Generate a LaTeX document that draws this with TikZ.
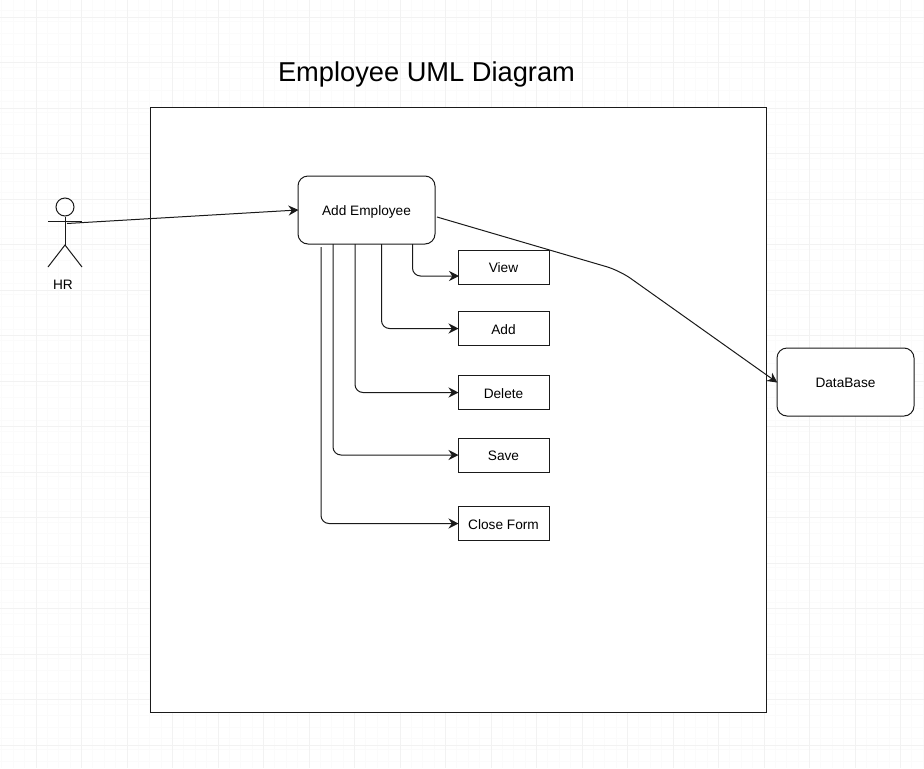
\documentclass[tikz,border=0pt]{standalone}
\usepackage{fontspec}
\setmainfont{Liberation Sans}
\usetikzlibrary{arrows.meta}
\definecolor{gridminor}{HTML}{FBFBFB}
\definecolor{gridmajor}{HTML}{F2F2F2}
\definecolor{inkline}{HTML}{1A1A1A}
\tikzset{
  gridfine/.style={draw=gridminor,line width=0.75pt},
  gridbold/.style={draw=gridmajor,line width=0.75pt},
  rbox/.style={draw=inkline,fill=white,line width=0.75pt,rounded corners=7.5pt,minimum width=102.75pt,minimum height=51pt,inner sep=0pt,text height=8.4pt,text depth=0pt,font=\fontsize{10.25pt}{12pt}\selectfont},
  sbox/.style={draw=inkline,fill=white,line width=0.75pt,minimum width=68.25pt,minimum height=25.5pt,inner sep=0pt,text height=8.4pt,text depth=0pt,font=\fontsize{10.25pt}{12pt}\selectfont},
  conn/.style={draw=inkline,line width=0.75pt,shorten >=-0.75pt,-{Stealth[length=7.5pt,width=7.5pt,inset=2.5pt]}},
  elbow/.style={conn,rounded corners=6pt},
  limb/.style={draw=inkline,line width=0.75pt},
  pt/.style={inner sep=0pt}
}
\begin{document}
\begin{tikzpicture}[x=0.75pt,y=-0.75pt]
\useasboundingbox (0,0) rectangle (924,768);
\clip (0,0) rectangle (924,768);
\fill[white] (0,0) rectangle (924,768);
% background grid
\foreach \i in {0,...,81} {
  \draw[gridfine] ({1.9+11.375*\i},0) -- ({1.9+11.375*\i},768);
}
\foreach \i in {0,...,68} {
  \draw[gridfine] (0,{-0.8+11.375*\i}) -- (924,{-0.8+11.375*\i});
}
\foreach \i in {0,...,20} {
  \draw[gridbold] ({36+45.5*\i},0) -- ({36+45.5*\i},768);
}
\foreach \i in {0,...,16} {
  \draw[gridbold] (0,{17.3+45.5*\i}) -- (924,{17.3+45.5*\i});
}
% title
\node[pt,font=\fontsize{20.45pt}{24pt}\selectfont] (title) at (426.5,74) {Employee UML Diagram};
% system boundary
\node[draw=inkline,fill=white,line width=0.75pt,minimum width=462pt,minimum height=453.75pt,inner sep=0pt] (system) at (458,409.5) {};
% actor
\node[draw=inkline,circle,line width=0.75pt,minimum size=13.5pt,inner sep=0pt] (head) at (65,207) {};
\coordinate (hip) at (65,245);
\coordinate (armL) at (48,221.7);
\coordinate (armR) at (82,221.7);
\coordinate (legL) at (48,267);
\coordinate (legR) at (82,267);
\coordinate (hand) at (67,223.5);
\draw[limb] (head.south) -- (hip);
\draw[limb] (armL) -- (armR);
\draw[limb] (legL) -- (hip) -- (legR);
\node[pt,font=\fontsize{10.25pt}{12pt}\selectfont] (hr) at (63,285) {HR};
% boxes
\node[rbox] (emp) at (366.5,210) {Add Employee};
\node[rbox] (db) at (845.5,382) {DataBase};
\node[sbox] (view) at (503.5,267) {View};
\node[sbox] (add) at (503.5,328.5) {Add};
\node[sbox] (del) at (503.5,392.5) {Delete};
\node[sbox] (save) at (503.5,455) {Save};
\node[sbox] (closeform) at (503.5,523.5) {Close Form};
% connector ends
\coordinate (viewin) at (458,276);
\coordinate (s1) at (412.5,244);
\coordinate (s2) at (381.5,244);
\coordinate (s3) at (355,244);
\coordinate (s4) at (333,244);
\coordinate (s5) at (321,247);
\coordinate (s6) at (437,217);
\coordinate (knee) at (619.5,270.5);
% connectors
\draw[conn] (hand) -- (emp.west);
\draw[elbow] (s1) |- (viewin);
\draw[elbow] (s2) |- (add.west);
\draw[elbow] (s3) |- (del.west);
\draw[elbow] (s4) |- (save.west);
\draw[elbow] (s5) |- (closeform.west);
\draw[conn,rounded corners=10pt] (s6) -- (knee) -- (db.west);
\end{tikzpicture}
\end{document}
